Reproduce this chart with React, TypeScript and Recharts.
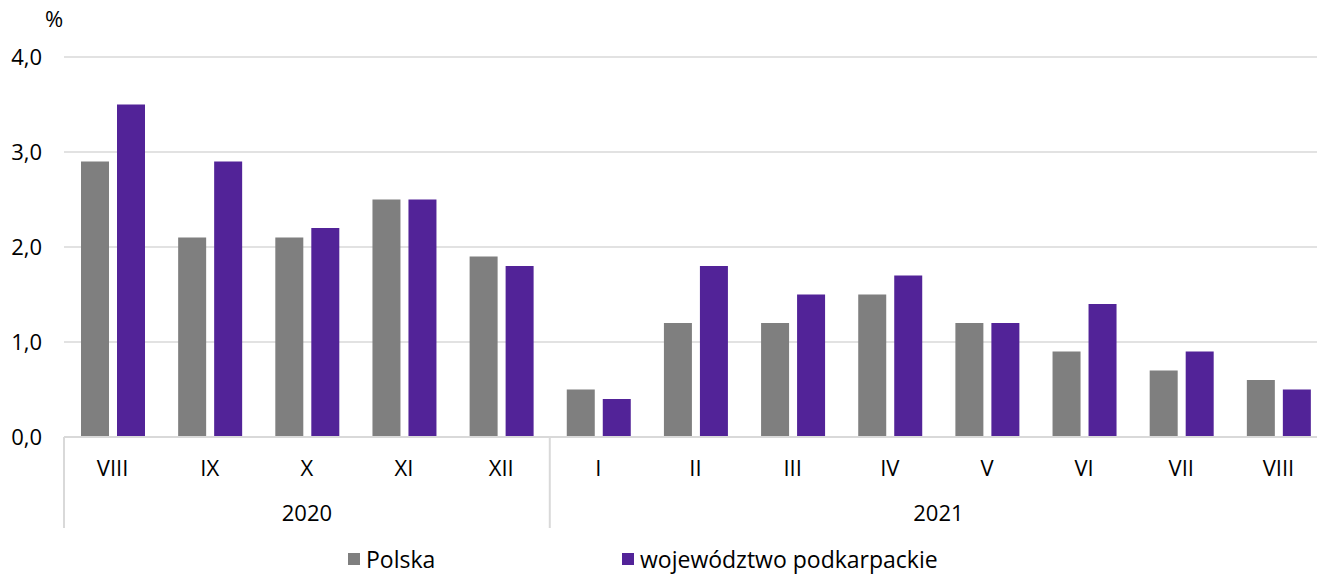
import { BarChart, Bar, XAxis, YAxis, CartesianGrid, Legend } from "recharts";

const months = ["VIII", "IX", "X", "XI", "XII", "I", "II", "III", "IV", "V", "VI", "VII", "VIII"];
const polska = [2.9, 2.1, 2.1, 2.5, 1.9, 0.5, 1.2, 1.2, 1.5, 1.2, 0.9, 0.7, 0.6];
const podkarpackie = [3.5, 2.9, 2.2, 2.5, 1.8, 0.4, 1.8, 1.5, 1.7, 1.2, 1.4, 0.9, 0.5];
const yearGroups = [
  { label: "2020", start: 0, count: 5 },
  { label: "2021", start: 5, count: 8 },
];
const yTicks = [0, 1, 2, 3, 4];

const FONT = "'Open Sans', sans-serif";
const GRAY = "#7f7f7f";
const PURPLE = "#522398";
const LINE = "#d9d9d9";

const CHART_W = 1327;
const CHART_H = 577;
const MARGIN = { top: 57, right: 0, bottom: 45, left: 0 };
const Y_W = 64;
const MONTH_H = 45;
const YEAR_H = 50;

const data = months.map((m, i) => ({ m, polska: polska[i], podkarpackie: podkarpackie[i] }));
const band = (CHART_W - MARGIN.left - MARGIN.right - Y_W) / data.length;

function YearTick(props: any) {
  const { x, y, index } = props;
  const g = yearGroups.find((gr) => gr.start === index);
  if (!g) return null;
  const lx = x - band / 2;
  return (
    <g>
      <line x1={lx} x2={lx} y1={y - MONTH_H} y2={y + 46} stroke={LINE} strokeWidth={2} />
      <text
        x={x + ((g.count - 1) / 2) * band}
        y={y + 39}
        textAnchor="middle"
        fontSize={22}
        fontFamily={FONT}
        fill="#000"
      >
        {g.label}
      </text>
    </g>
  );
}

function LegendBox() {
  const items = [
    { name: "Polska", color: GRAY },
    { name: "województwo podkarpackie", color: PURPLE },
  ];
  return (
    <div style={{ display: "flex", paddingLeft: 348, fontFamily: FONT, fontSize: 23, color: "#000" }}>
      {items.map((it, i) => (
        <div key={it.name} style={{ display: "flex", alignItems: "center", width: i === 0 ? 274 : "auto" }}>
          <span style={{ width: 12, height: 12, background: it.color, marginRight: 6, display: "inline-block" }} />
          <span style={{ lineHeight: "30px" }}>{it.name}</span>
        </div>
      ))}
    </div>
  );
}

export default function App() {
  return (
    <div style={{ position: "absolute", top: 0, left: 0, width: 1317, height: CHART_H, overflow: "hidden", background: "#fff" }}>
      <BarChart width={CHART_W} height={CHART_H} data={data} margin={MARGIN} barSize={28} barGap={8}>
        <CartesianGrid vertical={false} stroke={LINE} strokeWidth={1.5} />
        <YAxis
          width={Y_W}
          domain={[0, 4]}
          ticks={yTicks}
          axisLine={false}
          tickLine={false}
          tickSize={0}
          tickMargin={22}
          tickFormatter={(v: number) => v.toFixed(1).replace(".", ",")}
          tick={{ fontSize: 22, fill: "#000", fontFamily: FONT }}
          label={{
            content: (p: any) => (
              <text x={p.viewBox.x + 45} y={p.viewBox.y - 30} fontSize={22} fontFamily={FONT} fill="#000">
                %
              </text>
            ),
          }}
        />
        <XAxis
          dataKey="m"
          height={MONTH_H}
          axisLine={{ stroke: LINE, strokeWidth: 2 }}
          tickLine={false}
          tickSize={0}
          tickMargin={23}
          interval={0}
          tick={{ fontSize: 22, fill: "#000", fontFamily: FONT }}
        />
        <XAxis
          xAxisId="year"
          dataKey="m"
          height={YEAR_H}
          axisLine={false}
          tickLine={false}
          tickSize={0}
          tickMargin={0}
          interval={0}
          tick={<YearTick />}
        />
        <Legend
          verticalAlign="middle"
          align="center"
          layout="horizontal"
          wrapperStyle={{ top: 544, left: 0, width: 1317 }}
          content={() => <LegendBox />}
        />
        <Bar dataKey="polska" name="Polska" fill={GRAY} isAnimationActive={false} />
        <Bar dataKey="podkarpackie" name="województwo podkarpackie" fill={PURPLE} isAnimationActive={false} />
      </BarChart>
    </div>
  );
}
